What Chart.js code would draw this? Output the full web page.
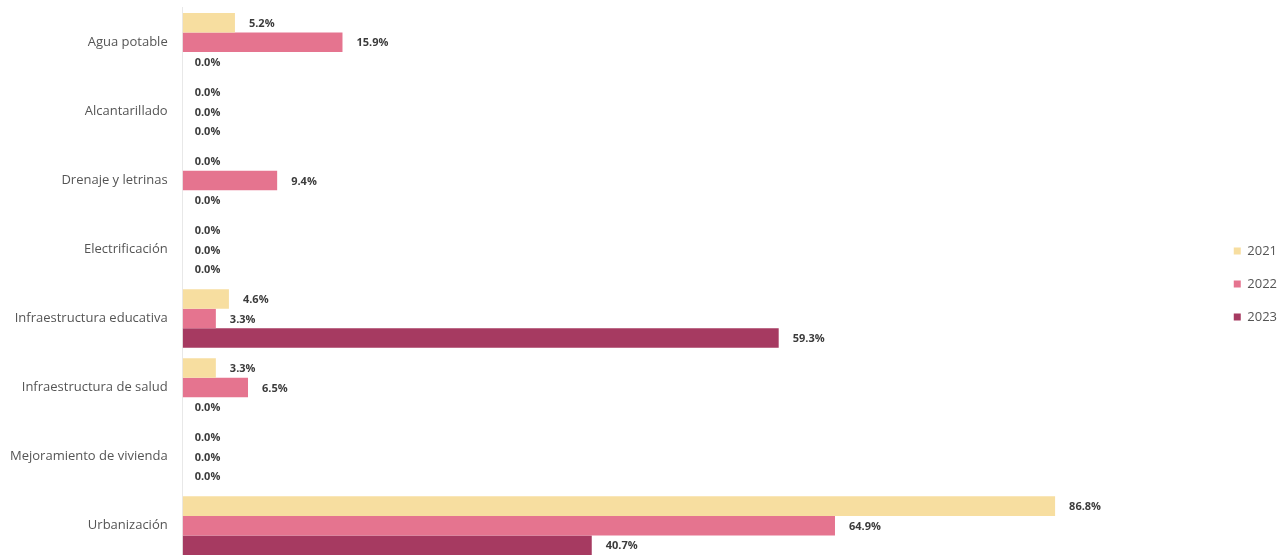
<!DOCTYPE html>
<html>
<head>
<meta charset="utf-8">
<script src="https://cdn.jsdelivr.net/npm/chart.js@4/dist/chart.umd.min.js"></script>
<style>
  html, body { margin: 0; padding: 0; background: #ffffff; overflow: hidden; }
  #wrap { width: 1288px; height: 568px; }
</style>
</head>
<body>
<div id="wrap"><canvas id="grafica" width="1288" height="568"></canvas></div>
<script>
// categorias y porcentajes por año
const categorias = ['Agua potable', 'Alcantarillado', 'Drenaje y letrinas', 'Electrificación',
    'Infraestructura educativa', 'Infraestructura de salud', 'Mejoramiento de vivienda', 'Urbanización'];
const anios = ['2021', '2022', '2023'];
const valores2021 = [5.2, 0.0, 0.0, 0.0, 4.6, 3.3, 0.0, 86.8];
const valores2022 = [15.9, 0.0, 9.4, 0.0, 3.3, 6.5, 0.0, 64.9];
const valores2023 = [0.0, 0.0, 0.0, 0.0, 59.3, 0.0, 0.0, 40.7];
const colores = ['#f7dea0', '#e5748f', '#a63a61'];

// etiquetas de valor al final de cada barra
const etiquetasValor = {
    id: 'etiquetasValor',
    afterDatasetsDraw(chart) {
        const ctx = chart.ctx;
        ctx.save();
        ctx.font = 'bold 11px "Open Sans", sans-serif';
        ctx.fillStyle = '#3b3b3b';
        ctx.textAlign = 'left';
        ctx.textBaseline = 'middle';
        chart.data.datasets.forEach((ds, i) => {
            const meta = chart.getDatasetMeta(i);
            meta.data.forEach((bar, j) => {
                const v = ds.data[j];
                const x = v > 0 ? bar.x + 14 : bar.base + 12;
                ctx.fillText(v.toFixed(1) + '%', x, bar.y + 1);
            });
        });
        ctx.restore();
    }
};

new Chart(document.getElementById('grafica').getContext('2d'), {
    type: 'bar',
    data: {
        labels: categorias,
        datasets: [
            { label: anios[0], data: valores2021, backgroundColor: colores[0] },
            { label: anios[1], data: valores2022, backgroundColor: colores[1] },
            { label: anios[2], data: valores2023, backgroundColor: colores[2] }
        ]
    },
    options: {
        indexAxis: 'y',
        responsive: false,
        animation: false,
        devicePixelRatio: 1,
        datasets: {
            bar: { categoryPercentage: 0.85, barPercentage: 1.0 }
        },
        layout: { padding: { top: 0, bottom: 0, left: 10, right: 1 } },
        scales: {
            x: {
                display: false,
                min: 0,
                max: 100
            },
            y: {
                grid: {
                    display: true,
                    drawOnChartArea: false,
                    drawTicks: true,
                    tickLength: 15,
                    color: 'rgba(0,0,0,0)'
                },
                border: { display: true, color: '#e8e8e8', width: 1 },
                ticks: {
                    padding: 0,
                    color: '#555555',
                    font: { family: '"Open Sans", sans-serif', size: 13 }
                }
            },
            // espacio entre las barras y la leyenda
            espacio: {
                type: 'category',
                axis: 'y',
                position: 'right',
                display: true,
                grid: { display: false },
                border: { display: false },
                ticks: { display: false },
                afterFit(scale) { scale.width = 26; }
            }
        },
        plugins: {
            tooltip: { enabled: false },
            legend: {
                position: 'right',
                align: 'center',
                labels: {
                    boxWidth: 7,
                    boxHeight: 7,
                    padding: 20,
                    color: '#555555',
                    font: { family: '"Open Sans", sans-serif', size: 13 }
                }
            }
        }
    },
    plugins: [etiquetasValor]
});
</script>
</body>
</html>
